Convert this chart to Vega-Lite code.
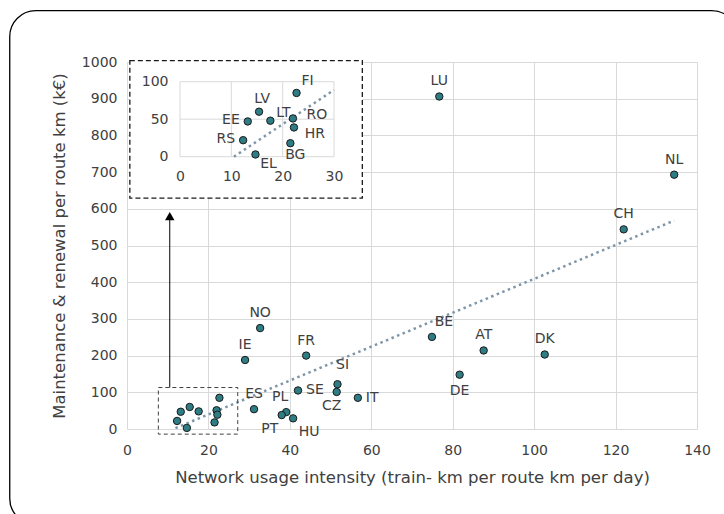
{
  "$schema": "https://vega.github.io/schema/vega-lite/v6.json",
  "width": 570,
  "height": 367,
  "autosize": {"type": "none"},
  "padding": {"left": 127, "top": 62, "right": 27, "bottom": 85},
  "background": "white",
  "config": {
    "view": {"stroke": null},
    "font": "DejaVu Sans",
    "text": {"font": "DejaVu Sans", "fontSize": 14, "color": "#404040"},
    "axis": {"labelFont": "DejaVu Sans", "titleFont": "DejaVu Sans", "labelFontSize": 14, "titleFontSize": 16.5, "labelColor": "#404040", "titleColor": "#404040", "titleFontWeight": "normal", "gridColor": "#d9d9d9", "domain": false, "ticks": false, "labelFlush": false, "format": "d"}
  },
  "datasets": {
    "pts": [
      {"c": "RS", "x": 12.3, "y": 22}, {"c": "EE", "x": 13.2, "y": 47}, {"c": "LV", "x": 15.4, "y": 60},
      {"c": "LT", "x": 17.6, "y": 48}, {"c": "EL", "x": 14.7, "y": 3}, {"c": "FI", "x": 22.7, "y": 85},
      {"c": "RO", "x": 22.0, "y": 51}, {"c": "HR", "x": 22.2, "y": 39}, {"c": "BG", "x": 21.5, "y": 18},
      {"c": "LU", "x": 76.7, "y": 906}, {"c": "NL", "x": 134.4, "y": 693}, {"c": "CH", "x": 122, "y": 544},
      {"c": "DK", "x": 102.6, "y": 203}, {"c": "AT", "x": 87.6, "y": 214}, {"c": "BE", "x": 74.9, "y": 251},
      {"c": "DE", "x": 81.7, "y": 148}, {"c": "NO", "x": 32.7, "y": 275}, {"c": "IE", "x": 29, "y": 188},
      {"c": "FR", "x": 44, "y": 200}, {"c": "SI", "x": 51.7, "y": 122}, {"c": "CZ", "x": 51.5, "y": 101},
      {"c": "SE", "x": 42, "y": 105}, {"c": "IT", "x": 56.7, "y": 85}, {"c": "ES", "x": 31.2, "y": 54},
      {"c": "PL", "x": 39.1, "y": 46}, {"c": "PT", "x": 38, "y": 38}, {"c": "HU", "x": 40.8, "y": 29}
    ],
    "trend": [{"x": 11.9, "y": 2.3}, {"x": 134.4, "y": 568}],
    "trendInset": [{"x": 10.5, "y": 0}, {"x": 30, "y": 89}],
    "igx": [{"v": 0}, {"v": 10}, {"v": 20}, {"v": 30}],
    "igy": [{"v": 0}, {"v": 50}, {"v": 100}],
    "one": [{}]
  },
  "layer": [
    {
      "data": {"name": "pts"},
      "mark": {"type": "point", "opacity": 0},
      "encoding": {
        "x": {"field": "x", "type": "quantitative", "scale": {"domain": [0, 140], "nice": false},
          "axis": {"orient": "bottom", "values": [0, 20, 40, 60, 80, 100, 120, 140], "grid": true, "labelPadding": 14, "title": "Network usage intensity (train- km per route km per day)", "titlePadding": 12}},
        "y": {"field": "y", "type": "quantitative", "scale": {"domain": [0, 1000], "nice": false},
          "axis": {"orient": "left", "values": [0, 100, 200, 300, 400, 500, 600, 700, 800, 900, 1000], "grid": true, "labelPadding": 10, "title": "Maintenance & renewal per route km (k€)", "titlePadding": 14}}
      }
    },
    {
      "data": {"name": "one"},
      "mark": {"type": "rect", "fill": "transparent", "stroke": "#000000", "strokeWidth": 1.3, "cornerRadius": 26},
      "encoding": {
        "x": {"datum": -28.8, "type": "quantitative", "scale": {"domain": [0, 140], "nice": false}, "axis": null},
        "x2": {"datum": 150},
        "y": {"datum": 1140, "type": "quantitative", "scale": {"domain": [0, 1000], "nice": false}, "axis": null},
        "y2": {"datum": -260}
      }
    },
    {
      "data": {"name": "trend"},
      "mark": {"type": "line", "color": "#7f96a8", "strokeWidth": 2.5, "strokeDash": [2.5, 3.5]},
      "encoding": {
        "x": {"field": "x", "type": "quantitative", "scale": {"domain": [0, 140], "nice": false}, "axis": null},
        "y": {"field": "y", "type": "quantitative", "scale": {"domain": [0, 1000], "nice": false}, "axis": null}
      }
    },
    {
      "data": {"name": "pts"},
      "mark": {"type": "point", "filled": true, "fill": "#2e7d84", "stroke": "#1a1a1a", "strokeWidth": 1, "size": 55, "opacity": 1},
      "encoding": {
        "x": {"field": "x", "type": "quantitative", "scale": {"domain": [0, 140], "nice": false}, "axis": null},
        "y": {"field": "y", "type": "quantitative", "scale": {"domain": [0, 1000], "nice": false}, "axis": null}
      }
    },
    {
      "data": {"name": "pts"},
      "transform": [{"filter": {"field": "c", "oneOf": ["LU", "NL", "CH", "DK", "AT", "NO", "IE", "FR", "ES"]}}],
      "mark": {"type": "text", "dy": -15, "align": "center", "baseline": "middle"},
      "encoding": {
        "x": {"field": "x", "type": "quantitative", "scale": {"domain": [0, 140], "nice": false}, "axis": null},
        "y": {"field": "y", "type": "quantitative", "scale": {"domain": [0, 1000], "nice": false}, "axis": null},
        "text": {"field": "c"}
      }
    },
    {
      "data": {"name": "pts"},
      "transform": [{"filter": {"field": "c", "oneOf": ["DE"]}}],
      "mark": {"type": "text", "dy": 16, "align": "center", "baseline": "middle"},
      "encoding": {
        "x": {"field": "x", "type": "quantitative", "scale": {"domain": [0, 140], "nice": false}, "axis": null},
        "y": {"field": "y", "type": "quantitative", "scale": {"domain": [0, 1000], "nice": false}, "axis": null},
        "text": {"field": "c"}
      }
    },
    {
      "data": {"name": "pts"},
      "transform": [{"filter": {"field": "c", "oneOf": ["BE"]}}],
      "mark": {"type": "text", "dx": 12, "dy": -15, "align": "center", "baseline": "middle"},
      "encoding": {
        "x": {"field": "x", "type": "quantitative", "scale": {"domain": [0, 140], "nice": false}, "axis": null},
        "y": {"field": "y", "type": "quantitative", "scale": {"domain": [0, 1000], "nice": false}, "axis": null},
        "text": {"field": "c"}
      }
    },
    {
      "data": {"name": "pts"},
      "transform": [{"filter": {"field": "c", "oneOf": ["SI"]}}],
      "mark": {"type": "text", "dx": 5, "dy": -19, "align": "center", "baseline": "middle"},
      "encoding": {
        "x": {"field": "x", "type": "quantitative", "scale": {"domain": [0, 140], "nice": false}, "axis": null},
        "y": {"field": "y", "type": "quantitative", "scale": {"domain": [0, 1000], "nice": false}, "axis": null},
        "text": {"field": "c"}
      }
    },
    {
      "data": {"name": "pts"},
      "transform": [{"filter": {"field": "c", "oneOf": ["CZ"]}}],
      "mark": {"type": "text", "dx": -5, "dy": 14, "align": "center", "baseline": "middle"},
      "encoding": {
        "x": {"field": "x", "type": "quantitative", "scale": {"domain": [0, 140], "nice": false}, "axis": null},
        "y": {"field": "y", "type": "quantitative", "scale": {"domain": [0, 1000], "nice": false}, "axis": null},
        "text": {"field": "c"}
      }
    },
    {
      "data": {"name": "pts"},
      "transform": [{"filter": {"field": "c", "oneOf": ["SE", "IT"]}}],
      "mark": {"type": "text", "dx": 8, "align": "left", "baseline": "middle"},
      "encoding": {
        "x": {"field": "x", "type": "quantitative", "scale": {"domain": [0, 140], "nice": false}, "axis": null},
        "y": {"field": "y", "type": "quantitative", "scale": {"domain": [0, 1000], "nice": false}, "axis": null},
        "text": {"field": "c"}
      }
    },
    {
      "data": {"name": "pts"},
      "transform": [{"filter": {"field": "c", "oneOf": ["PL"]}}],
      "mark": {"type": "text", "dx": -6, "dy": -15, "align": "center", "baseline": "middle"},
      "encoding": {
        "x": {"field": "x", "type": "quantitative", "scale": {"domain": [0, 140], "nice": false}, "axis": null},
        "y": {"field": "y", "type": "quantitative", "scale": {"domain": [0, 1000], "nice": false}, "axis": null},
        "text": {"field": "c"}
      }
    },
    {
      "data": {"name": "pts"},
      "transform": [{"filter": {"field": "c", "oneOf": ["PT"]}}],
      "mark": {"type": "text", "dx": -12, "dy": 14, "align": "center", "baseline": "middle"},
      "encoding": {
        "x": {"field": "x", "type": "quantitative", "scale": {"domain": [0, 140], "nice": false}, "axis": null},
        "y": {"field": "y", "type": "quantitative", "scale": {"domain": [0, 1000], "nice": false}, "axis": null},
        "text": {"field": "c"}
      }
    },
    {
      "data": {"name": "pts"},
      "transform": [{"filter": {"field": "c", "oneOf": ["HU"]}}],
      "mark": {"type": "text", "dx": 16, "dy": 14, "align": "center", "baseline": "middle"},
      "encoding": {
        "x": {"field": "x", "type": "quantitative", "scale": {"domain": [0, 140], "nice": false}, "axis": null},
        "y": {"field": "y", "type": "quantitative", "scale": {"domain": [0, 1000], "nice": false}, "axis": null},
        "text": {"field": "c"}
      }
    },
    {
      "data": {"name": "one"},
      "mark": {"type": "rect", "fill": "transparent", "stroke": "#404040", "strokeWidth": 1, "strokeDash": [4, 3]},
      "encoding": {
        "x": {"datum": 7.7, "type": "quantitative", "scale": {"domain": [0, 140], "nice": false}, "axis": null},
        "x2": {"datum": 27.2},
        "y": {"datum": -14, "type": "quantitative", "scale": {"domain": [0, 1000], "nice": false}, "axis": null},
        "y2": {"datum": 113}
      }
    },
    {
      "data": {"name": "one"},
      "mark": {"type": "rule", "color": "#000000", "strokeWidth": 1},
      "encoding": {
        "x": {"datum": 10.5, "type": "quantitative", "scale": {"domain": [0, 140], "nice": false}, "axis": null},
        "y": {"datum": 113, "type": "quantitative", "scale": {"domain": [0, 1000], "nice": false}, "axis": null},
        "y2": {"datum": 585}
      }
    },
    {
      "data": {"name": "one"},
      "mark": {"type": "point", "shape": "triangle-up", "filled": true, "fill": "#000000", "strokeWidth": 0, "size": 90, "opacity": 1},
      "encoding": {
        "x": {"datum": 10.5, "type": "quantitative", "scale": {"domain": [0, 140], "nice": false}, "axis": null},
        "y": {"datum": 580, "type": "quantitative", "scale": {"domain": [0, 1000], "nice": false}, "axis": null}
      }
    },
    {
      "data": {"name": "one"},
      "mark": {"type": "rect", "fill": "#ffffff", "stroke": "#1a1a1a", "strokeWidth": 1.3, "strokeDash": [5, 3]},
      "encoding": {
        "x": {"datum": 0.7, "type": "quantitative", "scale": {"domain": [0, 140], "nice": false}, "axis": null},
        "x2": {"datum": 57.8},
        "y": {"datum": 629, "type": "quantitative", "scale": {"domain": [0, 1000], "nice": false}, "axis": null},
        "y2": {"datum": 1004}
      }
    },
    {
      "data": {"name": "igx"},
      "mark": {"type": "rule", "color": "#d9d9d9", "strokeWidth": 1},
      "encoding": {
        "x": {"field": "v", "type": "quantitative", "scale": {"domain": [0, 30], "nice": false, "range": [53, 207]}, "axis": null},
        "y": {"datum": 0, "type": "quantitative", "scale": {"domain": [0, 100], "nice": false, "range": [94.7, 19.7]}, "axis": null},
        "y2": {"datum": 100}
      }
    },
    {
      "data": {"name": "igy"},
      "mark": {"type": "rule", "color": "#d9d9d9", "strokeWidth": 1},
      "encoding": {
        "x": {"datum": 0, "type": "quantitative", "scale": {"domain": [0, 30], "nice": false, "range": [53, 207]}, "axis": null},
        "x2": {"datum": 30},
        "y": {"field": "v", "type": "quantitative", "scale": {"domain": [0, 100], "nice": false, "range": [94.7, 19.7]}, "axis": null}
      }
    },
    {
      "data": {"name": "trendInset"},
      "mark": {"type": "line", "color": "#7f96a8", "strokeWidth": 2.5, "strokeDash": [2.5, 3.5]},
      "encoding": {
        "x": {"field": "x", "type": "quantitative", "scale": {"domain": [0, 30], "nice": false, "range": [53, 207]}, "axis": null},
        "y": {"field": "y", "type": "quantitative", "scale": {"domain": [0, 100], "nice": false, "range": [94.7, 19.7]}, "axis": null}
      }
    },
    {
      "data": {"name": "pts"},
      "transform": [{"filter": "datum.x < 25 && datum.y < 100"}],
      "mark": {"type": "point", "filled": true, "fill": "#2e7d84", "stroke": "#1a1a1a", "strokeWidth": 1, "size": 55, "opacity": 1},
      "encoding": {
        "x": {"field": "x", "type": "quantitative", "scale": {"domain": [0, 30], "nice": false, "range": [53, 207]},
          "axis": {"orient": "bottom", "offset": -272.3, "values": [0, 10, 20, 30], "grid": false, "labelPadding": 13, "title": null, "zindex": 1}},
        "y": {"field": "y", "type": "quantitative", "scale": {"domain": [0, 100], "nice": false, "range": [94.7, 19.7]},
          "axis": {"orient": "left", "offset": -53, "values": [0, 50, 100], "grid": false, "labelPadding": 12, "title": null, "zindex": 1}}
      }
    },
    {
      "data": {"name": "pts"},
      "transform": [{"filter": {"field": "c", "oneOf": ["FI"]}}],
      "mark": {"type": "text", "dx": 11, "dy": -12, "align": "center", "baseline": "middle"},
      "encoding": {
        "x": {"field": "x", "type": "quantitative", "scale": {"domain": [0, 30], "nice": false, "range": [53, 207]}, "axis": null},
        "y": {"field": "y", "type": "quantitative", "scale": {"domain": [0, 100], "nice": false, "range": [94.7, 19.7]}, "axis": null},
        "text": {"field": "c"}
      }
    },
    {
      "data": {"name": "pts"},
      "transform": [{"filter": {"field": "c", "oneOf": ["LV"]}}],
      "mark": {"type": "text", "dx": 3, "dy": -13, "align": "center", "baseline": "middle"},
      "encoding": {
        "x": {"field": "x", "type": "quantitative", "scale": {"domain": [0, 30], "nice": false, "range": [53, 207]}, "axis": null},
        "y": {"field": "y", "type": "quantitative", "scale": {"domain": [0, 100], "nice": false, "range": [94.7, 19.7]}, "axis": null},
        "text": {"field": "c"}
      }
    },
    {
      "data": {"name": "pts"},
      "transform": [{"filter": {"field": "c", "oneOf": ["EE", "RS"]}}],
      "mark": {"type": "text", "dx": -8, "dy": -1, "align": "right", "baseline": "middle"},
      "encoding": {
        "x": {"field": "x", "type": "quantitative", "scale": {"domain": [0, 30], "nice": false, "range": [53, 207]}, "axis": null},
        "y": {"field": "y", "type": "quantitative", "scale": {"domain": [0, 100], "nice": false, "range": [94.7, 19.7]}, "axis": null},
        "text": {"field": "c"}
      }
    },
    {
      "data": {"name": "pts"},
      "transform": [{"filter": {"field": "c", "oneOf": ["LT"]}}],
      "mark": {"type": "text", "dx": 13, "dy": -8, "align": "center", "baseline": "middle"},
      "encoding": {
        "x": {"field": "x", "type": "quantitative", "scale": {"domain": [0, 30], "nice": false, "range": [53, 207]}, "axis": null},
        "y": {"field": "y", "type": "quantitative", "scale": {"domain": [0, 100], "nice": false, "range": [94.7, 19.7]}, "axis": null},
        "text": {"field": "c"}
      }
    },
    {
      "data": {"name": "pts"},
      "transform": [{"filter": {"field": "c", "oneOf": ["RO"]}}],
      "mark": {"type": "text", "dx": 24, "dy": -3, "align": "center", "baseline": "middle"},
      "encoding": {
        "x": {"field": "x", "type": "quantitative", "scale": {"domain": [0, 30], "nice": false, "range": [53, 207]}, "axis": null},
        "y": {"field": "y", "type": "quantitative", "scale": {"domain": [0, 100], "nice": false, "range": [94.7, 19.7]}, "axis": null},
        "text": {"field": "c"}
      }
    },
    {
      "data": {"name": "pts"},
      "transform": [{"filter": {"field": "c", "oneOf": ["HR"]}}],
      "mark": {"type": "text", "dx": 21, "dy": 7, "align": "center", "baseline": "middle"},
      "encoding": {
        "x": {"field": "x", "type": "quantitative", "scale": {"domain": [0, 30], "nice": false, "range": [53, 207]}, "axis": null},
        "y": {"field": "y", "type": "quantitative", "scale": {"domain": [0, 100], "nice": false, "range": [94.7, 19.7]}, "axis": null},
        "text": {"field": "c"}
      }
    },
    {
      "data": {"name": "pts"},
      "transform": [{"filter": {"field": "c", "oneOf": ["BG"]}}],
      "mark": {"type": "text", "dx": 5, "dy": 12, "align": "center", "baseline": "middle"},
      "encoding": {
        "x": {"field": "x", "type": "quantitative", "scale": {"domain": [0, 30], "nice": false, "range": [53, 207]}, "axis": null},
        "y": {"field": "y", "type": "quantitative", "scale": {"domain": [0, 100], "nice": false, "range": [94.7, 19.7]}, "axis": null},
        "text": {"field": "c"}
      }
    },
    {
      "data": {"name": "pts"},
      "transform": [{"filter": {"field": "c", "oneOf": ["EL"]}}],
      "mark": {"type": "text", "dx": 13, "dy": 10, "align": "center", "baseline": "middle"},
      "encoding": {
        "x": {"field": "x", "type": "quantitative", "scale": {"domain": [0, 30], "nice": false, "range": [53, 207]}, "axis": null},
        "y": {"field": "y", "type": "quantitative", "scale": {"domain": [0, 100], "nice": false, "range": [94.7, 19.7]}, "axis": null},
        "text": {"field": "c"}
      }
    }
  ],
  "resolve": {"scale": {"x": "independent", "y": "independent"}, "axis": {"x": "independent", "y": "independent"}}
}
